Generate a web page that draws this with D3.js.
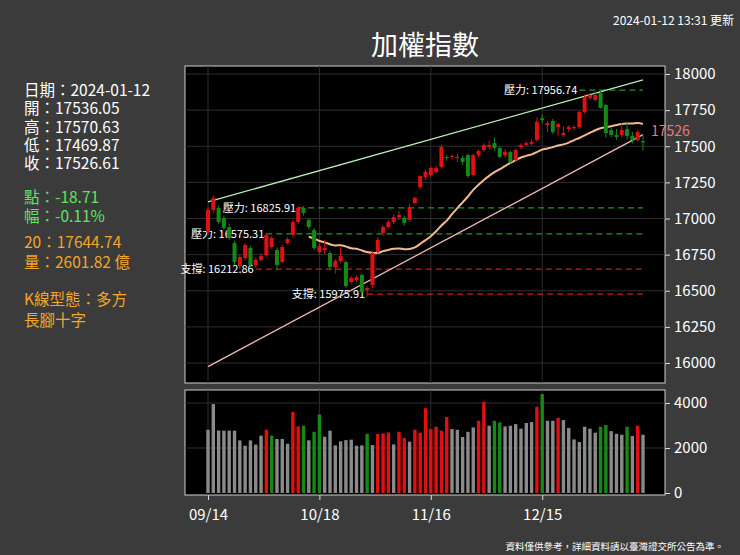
<!doctype html>
<html lang="zh-Hant">
<head>
<meta charset="utf-8">
<title>加權指數</title>
<script src="https://d3js.org/d3.v7.min.js"></script>
<style>
  body { margin: 0; background: #3b3b3b; }
  text { font-family: "Noto Sans CJK TC", "Noto Sans", sans-serif; }
</style>
</head>
<body>
<script>
// ---- data ----
var opens = [16907,17059,17073,17003,16941,16830,16671,16727,16796,16678,16713,16747,16803,16782,16699,16830,16886,16976,17073,16990,
  16920,16768,16782,16761,16664,16706,16699,16561,16574,16609,16505,16540,16768,16900,16941,16976,17010,17003,16990,17107,
  17218,17287,17301,17322,17356,17426,17426,17419,17419,17439,17301,17439,17474,17495,17522,17488,17439,17460,17405,17495,
  17509,17516,17543,17695,17647,17675,17633,17578,17619,17626,17633,17737,17834,17820,17868,17785,17612,17578,17578,17619,
  17571,17543,17536.05];
var closes = [17059,17142,16976,16934,16865,16699,16734,16817,16678,16713,16740,16886,16865,16678,16803,16858,16976,17073,17038,16941,
  16796,16810,16796,16664,16706,16740,16533,16588,16595,16491,16519,16761,16851,16941,16976,17010,17024,16969,17080,17142,
  17294,17322,17349,17349,17495,17419,17433,17426,17391,17294,17439,17467,17509,17509,17488,17426,17460,17391,17474,17509,
  17522,17529,17668,17682,17661,17599,17654,17592,17633,17633,17737,17841,17855,17855,17765,17592,17578,17564,17612,17571,
  17543,17599,17526.61];
var highs = [17080,17160,17090,17020,16960,16845,16750,16830,16810,16730,16760,16900,16880,16800,16820,16870,16990,17090,17085,17000,
  16935,16830,16850,16775,16720,16800,16710,16600,16610,16620,16530,16775,16870,16955,16990,17030,17050,17020,17100,17150,
  17300,17335,17360,17365,17510,17440,17445,17445,17435,17450,17450,17480,17520,17540,17560,17500,17480,17470,17485,17520,
  17535,17545,17700,17720,17675,17690,17665,17640,17645,17645,17745,17860,17870,17880,17890,17795,17630,17620,17660,17670,
  17600,17610,17570.63];
var lows = [16890,17040,16960,16920,16850,16680,16650,16710,16660,16660,16700,16735,16790,16640,16690,16820,16870,16960,17020,16925,
  16780,16750,16750,16640,16620,16690,16520,16545,16560,16470,16460,16520,16750,16880,16930,16960,16990,16950,16975,17095,
  17205,17270,17290,17310,17345,17400,17410,17390,17370,17280,17290,17425,17460,17480,17470,17415,17420,17380,17390,17480,
  17500,17505,17530,17660,17600,17585,17570,17565,17600,17610,17620,17725,17820,17810,17760,17560,17560,17545,17560,17545,
  17520,17530,17469.87];
var volumes = [2812,3950,2780,2770,2770,2770,2340,2100,2340,2150,2550,2812,2550,2400,2400,2190,3600,2960,2990,2340,
  2720,3490,2500,2770,2115,2295,2350,2370,2100,2115,2630,2130,2620,2650,2690,2160,2720,2440,2280,2810,
  2680,3770,2840,2945,2770,3375,2840,2810,2490,2720,2915,3210,4040,2990,3210,3140,2960,2990,3060,2860,
  3110,3150,3830,4395,3210,3210,3345,3240,2890,2380,2265,2945,2860,2680,2945,3020,2750,2630,2590,2945,
  2530,2990,2590];
var volColors = ["g","g","g","g","g","g","g","g","g","g",
  "g","r","e","g","g","g","r","r","e","g",
  "e","e","g","g","g","g","g","g","g","g",
  "e","g","r","r","r","g","r","r","g","r",
  "r","r","r","r","r","r","g","g","g","g",
  "g","r","r","g","e","e","g","g","g","g",
  "g","g","r","e","g","g","r","g","g","g",
  "g","g","g","g","e","e","g","g","g","e",
  "g","r","g"];
var tickIdx = [0, 21, 42, 63];
var tickLabels = ["09/14", "10/18", "11/16", "12/15"];
var priceTicks = [16000, 16250, 16500, 16750, 17000, 17250, 17500, 17750, 18000];
var volTicks = [0, 2000, 4000];
// horizontal support / resistance lines (drawn level, label text, start index)
var levelValues = [17889, 17073, 16893, 16649, 16476];
var levelLabels = ["壓力: 17956.74", "壓力: 16825.91", "壓力: 16575.31", "支撐: 16212.86", "支撐: 15975.91"];
var levelStart = [70, 17, 11, 9, 30];
var levelKind = ["res", "res", "res", "sup", "sup"];
// trend lines: price at first and last candle
var upperTrend = [17115, 17960];
var lowerTrend = [15975, 17580];
var infoText = ["日期：2024-01-12", "開：17536.05", "高：17570.63", "低：17469.87", "收：17526.61",
  "點：-18.71", "幅：-0.11%", "20：17644.74", "量：2601.82 億", "K線型態：多方", "長腳十字"];
var infoColor = ["#fff", "#fff", "#fff", "#fff", "#fff", "#5ee65e", "#5ee65e",
  "#f5a623", "#f5a623", "#f5a623", "#f5a623"];
var infoY = [96, 114, 133, 151, 169, 203, 222, 248, 268, 305, 326];

// 20-day moving average from closes
var ma20 = closes.map(function(c, i) {
  return i < 19 ? null : d3.mean(closes.slice(i - 19, i + 1));
});

var W = 740, H = 555;
var svg = d3.select("body").append("svg").attr("width", W).attr("height", H);
svg.append("rect").attr("width", W).attr("height", H).attr("fill", "#3b3b3b");

var L = 185, R = 665, T1 = 66, B1 = 383, T2 = 390, B2 = 495;
var n = closes.length;
var x = d3.scaleLinear().domain([0, n - 1]).range([208, 643]);
var y = d3.scaleLinear().domain([16000, 18000]).range([363, 74]);
var yv = d3.scaleLinear().domain([0, 4000]).range([493, 403]);

var RED = "#e01010", GREEN = "#138a13", GRAY = "#8a8a8a";

// panels
[[T1, B1], [T2, B2]].forEach(function(p) {
  svg.append("rect").attr("x", L).attr("y", p[0]).attr("width", R - L).attr("height", p[1] - p[0])
    .attr("fill", "#000").attr("stroke", "#cfcfcf").attr("stroke-width", 1);
});

// grid
var grid = svg.append("g").attr("stroke", "#2e2e2e").attr("stroke-width", 1);
priceTicks.forEach(function(t) {
  grid.append("line").attr("x1", L).attr("x2", R).attr("y1", y(t)).attr("y2", y(t));
});
[2000, 4000].forEach(function(t) {
  grid.append("line").attr("x1", L).attr("x2", R).attr("y1", yv(t)).attr("y2", yv(t));
});
tickIdx.forEach(function(i) {
  grid.append("line").attr("x1", x(i)).attr("x2", x(i)).attr("y1", T1).attr("y2", B1);
  grid.append("line").attr("x1", x(i)).attr("x2", x(i)).attr("y1", T2).attr("y2", B2);
});

// right axes
var ax = svg.append("g").attr("transform", "translate(" + R + ",0)")
  .call(d3.axisRight(y).tickValues(priceTicks).tickSize(5).tickFormat(d3.format("d")));
var axv = svg.append("g").attr("transform", "translate(" + R + ",0)")
  .call(d3.axisRight(yv).tickValues(volTicks).tickSize(5).tickFormat(d3.format("d")));
[ax, axv].forEach(function(a) {
  a.select(".domain").remove();
  a.selectAll("line").attr("stroke", "#ddd");
  a.selectAll("text").attr("fill", "#fff").attr("font-size", 15).attr("x", 9)
    .attr("font-family", "'Noto Sans', sans-serif");
});

// bottom axis
var axb = svg.append("g").attr("transform", "translate(0," + B2 + ")")
  .call(d3.axisBottom(x).tickValues(tickIdx).tickSize(5).tickFormat(function(d, i) { return tickLabels[i]; }));
axb.select(".domain").remove();
axb.selectAll("line").attr("stroke", "#ddd");
axb.selectAll("text").attr("fill", "#fff").attr("font-size", 15).attr("dy", "1.1em")
  .attr("font-family", "'Noto Sans', sans-serif");

// level lines
levelValues.forEach(function(v, k) {
  var col = levelKind[k] === "res" ? "#1f9a1f" : "#d01818";
  svg.append("line").attr("x1", x(levelStart[k])).attr("x2", x(n - 1))
    .attr("y1", y(v)).attr("y2", y(v)).attr("stroke", col).attr("stroke-width", 1.3)
    .attr("stroke-dasharray", "6,4");
  svg.append("text").attr("x", x(levelStart[k]) - 2).attr("y", y(v) + 4)
    .attr("text-anchor", "end").attr("fill", "#fff").attr("font-size", 11)
    .text(levelLabels[k]);
});

// trend lines
svg.append("line").attr("x1", x(0)).attr("x2", x(n - 1)).attr("y1", y(upperTrend[0])).attr("y2", y(upperTrend[1]))
  .attr("stroke", "#b6f0b0").attr("stroke-width", 1.3);
svg.append("line").attr("x1", x(0)).attr("x2", x(n - 1)).attr("y1", y(lowerTrend[0])).attr("y2", y(lowerTrend[1]))
  .attr("stroke", "#f2b8b0").attr("stroke-width", 1.3);

// MA20
svg.append("path").datum(ma20.map(function(v, i) { return [i, v]; }).filter(function(d) { return d[1] !== null; }))
  .attr("fill", "none").attr("stroke", "#f6b98a").attr("stroke-width", 2)
  .attr("d", d3.line().curve(d3.curveMonotoneX).x(function(d) { return x(d[0]); }).y(function(d) { return y(d[1]); }));

// candles
var bw = 4;
var cg = svg.append("g");
closes.forEach(function(c, i) {
  var o = opens[i], col = c >= o ? RED : GREEN;
  cg.append("line").attr("x1", x(i)).attr("x2", x(i)).attr("y1", y(highs[i])).attr("y2", y(lows[i]))
    .attr("stroke", col).attr("stroke-width", 1);
  cg.append("rect").attr("x", x(i) - bw / 2).attr("width", bw)
    .attr("y", y(Math.max(o, c))).attr("height", Math.max(1, Math.abs(y(o) - y(c))))
    .attr("fill", col);
});

// last close label
svg.append("text").attr("x", 651).attr("y", y(closes[n - 1]) - 6)
  .attr("fill", "#f07878").attr("font-size", 14).text(Math.floor(closes[n - 1]));

// volume bars
var vcol = { g: GRAY, r: RED, e: GREEN };
volumes.forEach(function(v, i) {
  svg.append("rect").attr("x", x(i) - 1.7).attr("width", 3.4)
    .attr("y", yv(v)).attr("height", yv(0) - yv(v)).attr("fill", vcol[volColors[i]]);
});

// titles
svg.append("text").attr("x", 425).attr("y", 55).attr("text-anchor", "middle")
  .attr("fill", "#fff").attr("font-size", 27).text("加權指數");
svg.append("text").attr("x", 734).attr("y", 25).attr("text-anchor", "end")
  .attr("fill", "#fff").attr("font-size", 12).text("2024-01-12 13:31 更新");
svg.append("text").attr("x", 724).attr("y", 550).attr("text-anchor", "end")
  .attr("fill", "#fff").attr("font-size", 9.5).text("資料僅供參考，詳細資料請以臺灣證交所公告為準。");

// info panel
infoText.forEach(function(t, i) {
  svg.append("text").attr("x", 24).attr("y", infoY[i]).attr("fill", infoColor[i])
    .attr("font-size", 15.5).text(t);
});
</script>
</body>
</html>
